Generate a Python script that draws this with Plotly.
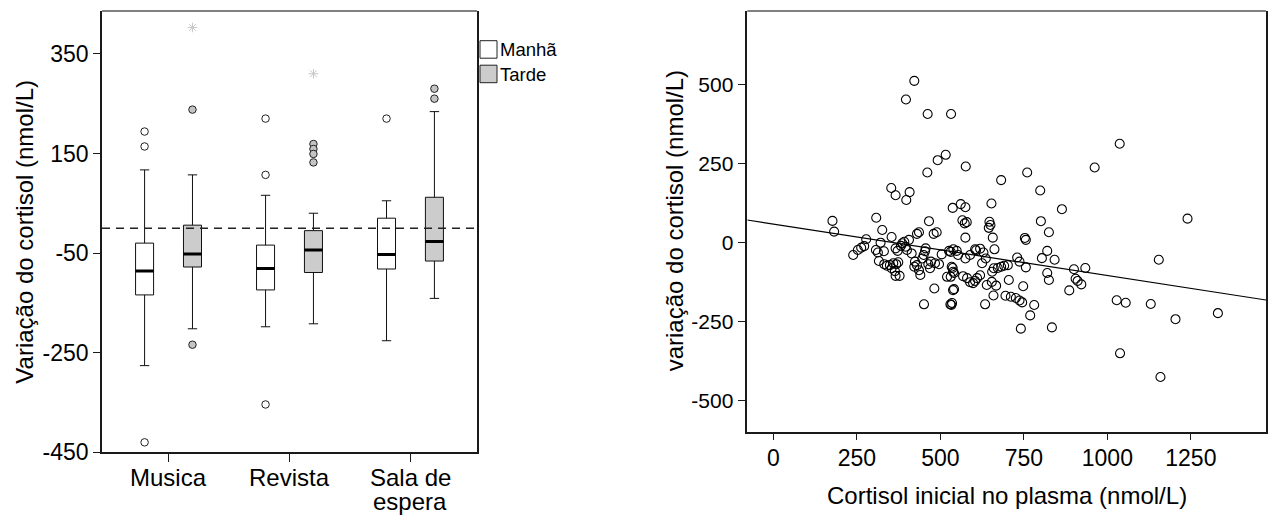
import plotly.graph_objects as go

# ---------------- left panel: change in cortisol by setting and session ----------------
settings = ["Musica", "Revista", "Sala de<br>espera"]
sessions = ["Manhã", "Tarde"]
left_yticks = [-450, -250, -50, 150, 350]

manha_q1 = [-134, -124, -82]
manha_median = [-86, -81, -53]
manha_q3 = [-30, -34, 20]
manha_lower = [-276, -198, -226]
manha_upper = [117, 66, 55]
manha_outliers = [[194, 164, -430], [220, 107, -354], [220]]
manha_extremes = [[], [], []]

tarde_q1 = [-78, -89, -66]
tarde_median = [-52, -44, -27]
tarde_q3 = [6, -5, 62]
tarde_lower = [-202, -192, -141]
tarde_upper = [107, 30, 234]
tarde_outliers = [[238, -234], [169, 159, 149, 132], [280, 260]]
tarde_extremes = [[403], [310], []]

# ---------------- right panel: initial plasma cortisol vs change ----------------
right_xticks = [0, 250, 500, 750, 1000, 1250]
right_yticks = [-500, -250, 0, 250, 500]

initial_cortisol = [
    422, 397, 462, 532, 516, 492, 461, 353, 366, 408, 398, 537, 177, 182, 308, 466,
    576, 760, 682, 799, 653, 561, 575, 864, 566, 579, 573, 647, 645, 650, 801, 1037,
    962, 1240, 825, 575, 657, 753, 756, 604, 619, 662, 820, 730, 804, 842, 1154, 737,
    756, 702, 691, 682, 672, 660, 655, 705, 748, 667, 659, 634, 695, 711, 726, 737,
    745, 781, 769, 741, 834, 820, 825, 886, 900, 905, 911, 922, 934, 1028, 1055, 1130,
    1204, 1331, 1038, 1159, 639, 654, 629, 607, 636, 625, 619, 610, 604, 598, 589, 580,
    568, 537, 541, 531, 541, 535, 533, 575, 589, 553, 539, 549, 531, 326, 354, 278,
    436, 430, 480, 489, 406, 392, 386, 382, 272, 263, 253, 239, 321, 307, 313, 331,
    366, 372, 396, 400, 456, 454, 414, 316, 332, 340, 349, 359, 368, 374, 354, 364,
    366, 378, 424, 422, 430, 436, 440, 450, 446, 464, 472, 484, 496, 504, 469, 526,
    520, 482, 451, 530, 538, 534, 538,
]
cortisol_change = [
    511, 452, 406, 406, 277, 260, 221, 172, 149, 159, 134, 109, 68, 34, 78, 67,
    240, 221, 197, 164, 123, 121, 111, 105, 70, 64, 60, 65, 46, 55, 67, 312,
    237, 75, 32, 15, 15, 14, 8, -22, -20, -22, -27, -48, -50, -55, -55, -61,
    -79, -72, -74, -77, -81, -82, -93, -119, -139, -137, -168, -196, -169, -172, -176, -184,
    -190, -198, -231, -273, -269, -97, -119, -152, -85, -115, -122, -133, -81, -183, -191, -195,
    -243, -224, -351, -426, -135, -125, -32, -25, -51, -66, -104, -113, -122, -129, -126, -113,
    -107, -81, -97, -109, -148, -192, -198, -51, -40, -40, -22, -27, -30, 39, 17, 10,
    32, 27, 27, 32, 8, 2, -3, -11, -12, -17, -24, -40, -1, -24, -32, -28,
    -19, -27, -14, -24, -19, -28, -35, -59, -69, -74, -72, -66, -69, -63, -82, -91,
    -106, -106, -61, -77, -72, -88, -103, -40, -51, -69, -61, -66, -69, -38, -82, -27,
    -109, -146, -196, -196, -151, -77, -93,
]
fit_intercept = 58.0
fit_slope = -0.163

FONT = "Liberation Sans, Arial, sans-serif"
W, H = 1271, 515

# layout of the two panels (pixels)
L_LEFT, L_RIGHT, L_TOP, L_BOTTOM = 102, 477, 11, 452.3
R_LEFT, R_RIGHT, R_TOP, R_BOTTOM = 747.3, 1266, 11, 431.7

LEFT_XRANGE = [-0.55, 2.55]
LEFT_YRANGE = [-450, 436]
RIGHT_XRANGE = [-78, 1475]
RIGHT_YRANGE = [-599, 732]

BOX_WIDTH = 0.149
SIDE_SHIFT = 0.198

session_styles = {
    "Manhã": dict(fill="white", outfill="white"),
    "Tarde": dict(fill="#cccccc", outfill="#c4c4c4"),
}
session_stats = {
    "Manhã": (manha_q1, manha_median, manha_q3, manha_lower, manha_upper,
              manha_outliers, manha_extremes),
    "Tarde": (tarde_q1, tarde_median, tarde_q3, tarde_lower, tarde_upper,
              tarde_outliers, tarde_extremes),
}

fig = go.Figure()

for k, name in enumerate(sessions):
    q1, med, q3, lo, hi, outs, extr = session_stats[name]
    side = -1 if k == 0 else 1
    xs = [i + side * SIDE_SHIFT for i in range(len(settings))]
    st = session_styles[name]
    fig.add_trace(go.Box(
        x=xs, q1=q1, median=med, q3=q3, lowerfence=lo, upperfence=hi,
        width=BOX_WIDTH, fillcolor=st["fill"], whiskerwidth=0.52,
        line=dict(color="#111111", width=1), boxpoints=False,
        name=name, showlegend=False, hoverinfo="skip", xaxis="x", yaxis="y",
    ))
    # heavier median bar
    fig.add_trace(go.Scatter(
        x=xs, y=med, mode="markers", showlegend=False, hoverinfo="skip",
        marker=dict(symbol="line-ew", size=12.9, line=dict(color="black", width=3)),
        xaxis="x", yaxis="y",
    ))
    ox, oy = [], []
    for i, vals in enumerate(outs):
        for v in vals:
            ox.append(xs[i])
            oy.append(v)
    fig.add_trace(go.Scatter(
        x=ox, y=oy, mode="markers", showlegend=False, hoverinfo="skip",
        marker=dict(symbol="circle", size=7.5, color=st["outfill"],
                    line=dict(color="#222222", width=1)),
        xaxis="x", yaxis="y",
    ))
    ex, ey = [], []
    for i, vals in enumerate(extr):
        for v in vals:
            ex.append(xs[i])
            ey.append(v)
    if ex:
        fig.add_trace(go.Scatter(
            x=ex, y=ey, mode="markers", showlegend=False, hoverinfo="skip",
            marker=dict(symbol="asterisk-open", size=8, color="#c8c8c8",
                        line=dict(color="#c8c8c8", width=1)),
            xaxis="x", yaxis="y",
        ))

# scatter of individual measurements
fig.add_trace(go.Scatter(
    x=initial_cortisol, y=cortisol_change, mode="markers", showlegend=False,
    hoverinfo="skip",
    marker=dict(symbol="circle-open", size=9, color="black", line=dict(width=1.1)),
    xaxis="x2", yaxis="y2",
))
# least-squares fit across the whole axis
fx = RIGHT_XRANGE
fig.add_trace(go.Scatter(
    x=fx, y=[fit_intercept + fit_slope * v for v in fx], mode="lines",
    showlegend=False, hoverinfo="skip",
    line=dict(color="black", width=1.2), xaxis="x2", yaxis="y2",
))


def px_x(v):
    return v / W


def px_y(v):
    return 1 - v / H


axis_common = dict(
    showgrid=False, zeroline=False, showline=True, linecolor="#1a1a1a",
    linewidth=1.5, ticks="outside", tickcolor="#1a1a1a", tickwidth=1,
    automargin=False,
)

fig.update_layout(
    width=W, height=H, margin=dict(l=0, r=0, t=0, b=0),
    paper_bgcolor="white", plot_bgcolor="white",
    font=dict(family=FONT, color="black"),
    xaxis=dict(**axis_common, domain=[px_x(L_LEFT), px_x(L_RIGHT)], anchor="y",
               range=LEFT_XRANGE, tickvals=list(range(len(settings))),
               showticklabels=False, ticklen=8),
    yaxis=dict(**axis_common, domain=[px_y(L_BOTTOM), px_y(L_TOP)], anchor="x",
               range=LEFT_YRANGE, tickvals=left_yticks,
               ticktext=[str(v) for v in left_yticks],
               ticklen=7, tickfont=dict(size=23), mirror=True),
    xaxis2=dict(**axis_common, domain=[px_x(R_LEFT), px_x(R_RIGHT)], anchor="y2",
                range=RIGHT_XRANGE, tickvals=right_xticks,
                ticktext=[str(v) for v in right_xticks],
                ticklen=7, tickfont=dict(size=23), ticklabelstandoff=-2),
    yaxis2=dict(**axis_common, domain=[px_y(R_BOTTOM), px_y(R_TOP)], anchor="x2",
                range=RIGHT_YRANGE, tickvals=right_yticks,
                ticktext=[str(v) for v in right_yticks],
                ticklen=8, tickfont=dict(size=21), mirror=True),
)

shapes = [
    # reference line at zero change
    dict(type="line", xref="x domain", yref="y", x0=0, x1=1, y0=0, y1=0,
         line=dict(color="#222222", width=1.5, dash="8px,6px")),
    # top frame lines
    dict(type="line", xref="x domain", yref="y domain", x0=0, x1=1, y0=1, y1=1,
         line=dict(color="#808080", width=2)),
    dict(type="line", xref="x2 domain", yref="y2 domain", x0=0, x1=1, y0=1, y1=1,
         line=dict(color="#808080", width=2)),
]

annotations = [
    dict(text="Variação do cortisol (nmol/L)", xref="paper", yref="paper",
         x=px_x(25), y=px_y((L_TOP + L_BOTTOM) / 2), textangle=-90,
         showarrow=False, font=dict(size=24), xanchor="center", yanchor="middle"),
    dict(text="variação do cortisol (nmol/L)", xref="paper", yref="paper",
         x=px_x(674), y=px_y((R_TOP + R_BOTTOM) / 2), textangle=-90,
         showarrow=False, font=dict(size=24), xanchor="center", yanchor="middle"),
    dict(text="Cortisol inicial no plasma (nmol/L)", xref="paper", yref="paper",
         x=px_x((R_LEFT + R_RIGHT) / 2), y=px_y(495), showarrow=False,
         font=dict(size=24), xanchor="center", yanchor="middle"),
]

# category labels under the box plot, with tight line spacing
for i, label in enumerate(settings):
    for j, line in enumerate(label.split("<br>")):
        annotations.append(dict(
            text=line, xref="x", yref="paper", x=i, y=px_y(477 + 24 * j),
            showarrow=False, xanchor="center", yanchor="middle",
            font=dict(size=24)))

# key for the two sessions
for k, name in enumerate(sessions):
    top = 40.7 + k * 24.5
    shapes.append(dict(type="rect", xref="paper", yref="paper",
                       x0=px_x(480), x1=px_x(497), y0=px_y(top + 17.5), y1=px_y(top),
                       fillcolor=session_styles[name]["fill"],
                       line=dict(color="#222222", width=1)))
    annotations.append(dict(text=name, xref="paper", yref="paper",
                            x=px_x(498), y=px_y(top + 9), showarrow=False,
                            xanchor="left", yanchor="middle", font=dict(size=18.5)))

fig.update_layout(shapes=shapes, annotations=annotations)

fig.write_html("out.html")
